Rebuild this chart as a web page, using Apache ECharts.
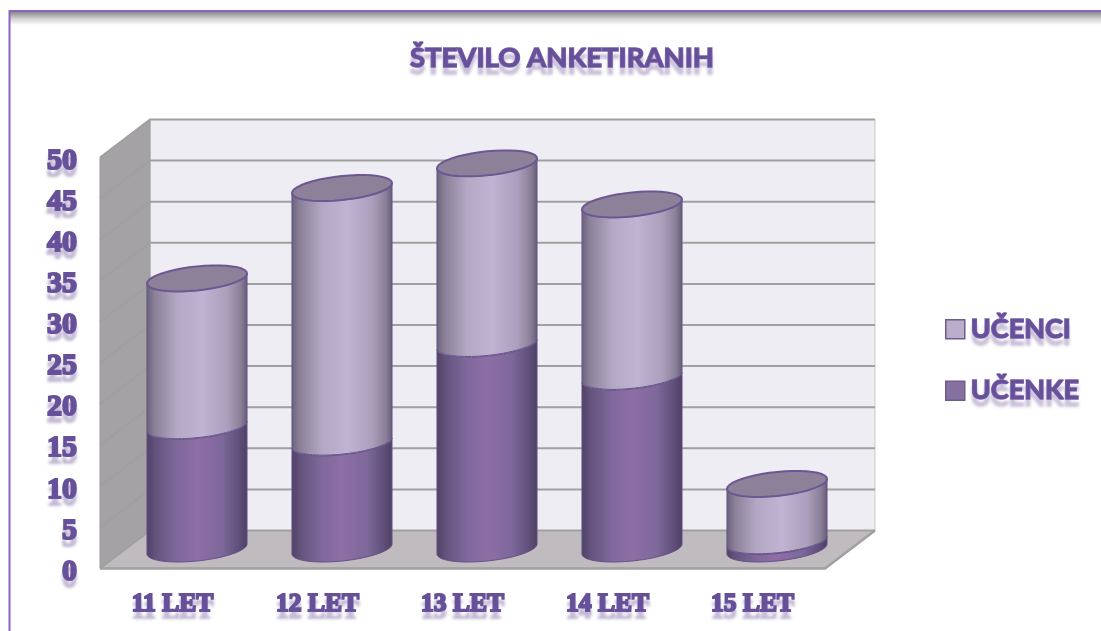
<!DOCTYPE html>
<html>
<head>
<meta charset="utf-8">
<style>html,body{margin:0;padding:0;background:#fff}#c{width:1101px;height:631px}</style>
<script src="https://cdn.jsdelivr.net/npm/echarts@6/dist/echarts.min.js"></script>
</head>
<body>
<div id="c"></div>
<script>
const categories = ['11 LET', '12 LET', '13 LET', '14 LET', '15 LET'];
const ucenke = [15, 13, 25, 21, 1];
const ucenci = [18, 31, 22, 21, 7];
const yTicks = [0, 5, 10, 15, 20, 25, 30, 35, 40, 45, 50];

const DX = 50, DY = -38;
const PURPLE = '#67509a';

function hGrad(stops) {
  return { type: 'linear', x: 0, y: 0, x2: 1, y2: 0,
    colorStops: stops.map(s => ({ offset: s[0], color: s[1] })) };
}
const lightFill = hGrad([[0,'#6a6278'],[0.08,'#8a8098'],[0.3,'#b3a8c4'],[0.55,'#c0b3d3'],[0.8,'#ab9fbc'],[0.93,'#8b8099'],[1,'#645c72']]);
const darkFill = hGrad([[0,'#4f4164'],[0.1,'#66547f'],[0.3,'#7f699b'],[0.5,'#8e6ea6'],[0.75,'#7d689a'],[0.92,'#5f4e78'],[1,'#4d3f60']]);

function rim(cx, cy, a, from, to) {
  const pts = [];
  const n = 40;
  for (let i = 0; i <= n; i++) {
    const t = from + (to - from) * i / n;
    pts.push([cx + a * Math.cos(t), cy - 0.1 * a * Math.cos(t) + 0.24 * a * Math.sin(t)]);
  }
  return pts;
}

function cylinderItem(fill, withTop) {
  return function (params, api) {
    const idx = api.value(0);
    const lo = api.coord([idx, api.value(1)]);
    const hi = api.coord([idx, api.value(2)]);
    const a = api.size([1, 0])[0] * 0.345;
    const cx = lo[0] + DX / 2 - 0.5;
    const yLo = lo[1] + DY / 2 - 0.5, yHi = hi[1] + DY / 2 + 0.2;
    const body = rim(cx, yLo, a, 0, Math.PI).concat(rim(cx, yHi, a, Math.PI, 0));
    const children = [{
      type: 'polygon', shape: { points: body },
      style: { fill: fill, stroke: '#65518a', lineWidth: 1 }
    }];
    if (withTop) {
      children.push({
        type: 'polygon', shape: { points: rim(cx, yHi, a, 0, Math.PI * 2) },
        style: { fill: '#8d8099', stroke: '#6d5793', lineWidth: 2 }
      });
    }
    return { type: 'group', children: children };
  };
}

function wallsItem(params, api) {
  const v0 = yTicks[0], v1 = yTicks[yTicks.length - 1];
  const fb = api.coord([0, v0]), ft = api.coord([0, v1]);
  const band = api.size([1, 0])[0];
  const xL = fb[0] - band / 2, xR = xL + band * categories.length;
  const yB = fb[1], yT = ft[1];
  return { type: 'group', children: [
    { type: 'polygon', shape: { points: [[xL + DX, yT + DY], [xR + DX, yT + DY], [xR + DX, yB + DY], [xL + DX, yB + DY]] },
      style: { fill: '#eeedf3', stroke: '#c9c9cd', lineWidth: 1 } },
    { type: 'polygon', shape: { points: [[xL, yT], [xL + DX, yT + DY], [xL + DX, yB + DY], [xL, yB]] },
      style: { fill: '#a5a2a6', stroke: '#9a9a9a', lineWidth: 1 } },
    { type: 'polygon', shape: { points: [[xL, yB], [xL + DX, yB + DY], [xR + DX, yB + DY], [xR, yB]] },
      style: { fill: '#bfbbbe', stroke: '#a3a3a3', lineWidth: 1 } }
  ] };
}

function gridItem(params, api) {
  const v = api.value(0);
  const c = api.coord([0, v]);
  const band = api.size([1, 0])[0];
  const xL = c[0] - band / 2, xR = xL + band * categories.length, y = c[1];
  const children = [{
    type: 'polyline',
    shape: { points: [[xL, y], [xL + DX, y + DY], [xR + DX, y + DY]] },
    style: { fill: 'none', stroke: '#a0a0a0', lineWidth: 2 }
  }];
  if (v === yTicks[0]) {
    children.push({
      type: 'polyline',
      shape: { points: [[xL, y], [xR, y], [xR + DX, y + DY]] },
      style: { fill: 'none', stroke: '#a0a0a0', lineWidth: 2.5 }
    });
  }
  return { type: 'group', children: children };
}

const tickFont = {
  fontFamily: 'Liberation Serif', fontWeight: 'bold', color: PURPLE,
  textBorderColor: PURPLE, textBorderWidth: 2,
  textShadowColor: 'rgba(120,100,160,0.35)', textShadowBlur: 3, textShadowOffsetX: 0, textShadowOffsetY: 7
};
const headFont = {
  fontFamily: 'Lato', fontWeight: 'bold', color: PURPLE,
  textBorderColor: '#7a62ab', textBorderWidth: 1.5,
  textShadowColor: 'rgba(120,100,160,0.35)', textShadowBlur: 3, textShadowOffsetX: 0, textShadowOffsetY: 7
};

const option = {
  animation: false,
  backgroundColor: '#ffffff',
  title: {
    text: 'ŠTEVILO ANKETIRANIH', left: 557, top: 39, textAlign: 'center',
    textStyle: Object.assign({}, headFont, { fontSize: 27.5 })
  },
  legend: {
    data: ['UČENCI', 'UČENKE'], orient: 'vertical', left: 945, top: 315, padding: 0,
    itemWidth: 19, itemHeight: 19, itemGap: 33, icon: 'rect',
    itemStyle: { borderColor: '#6f5b8d', borderWidth: 1.5 },
    textStyle: Object.assign({}, headFont, { fontSize: 27, padding: [4, 0, 0, 1] })
  },
  grid: { left: 100, top: 157.5, width: 725, height: 411, containLabel: false },
  xAxis: {
    type: 'category', data: categories,
    axisLine: { show: false }, axisTick: { show: false }, splitLine: { show: false },
    axisLabel: Object.assign({ margin: 23, fontSize: 25.5 }, tickFont)
  },
  yAxis: {
    type: 'value', min: 0, max: 50, interval: 5,
    axisLine: { show: false }, axisTick: { show: false }, splitLine: { show: false },
    axisLabel: Object.assign({ margin: 23, fontSize: 30, verticalAlign: 'top', lineHeight: 7 }, tickFont)
  },
  graphic: [
    { type: 'rect', z: 0, silent: true, shape: { x: 10, y: 12, width: 1091, height: 13 },
      style: { fill: { type: 'linear', x: 0, y: 0, x2: 0, y2: 1,
        colorStops: [{ offset: 0, color: '#8a8a8a' }, { offset: 0.5, color: '#cfcfcf' }, { offset: 1, color: '#ffffff' }] } } },
    { type: 'polyline', z: 1, silent: true, shape: { points: [[9.5, 631], [9.5, 11], [1101, 11]] },
      style: { fill: 'none', stroke: '#8e62c2', lineWidth: 2 } }
  ],
  series: [
    { type: 'custom', name: 'walls', z: 1, silent: true, data: [[0]], renderItem: wallsItem,
      encode: { x: -1, y: -1 } },
    { type: 'custom', name: 'grid', z: 2, silent: true, data: yTicks.map(v => [v]), renderItem: gridItem,
      encode: { x: -1, y: 0 } },
    { type: 'custom', name: 'UČENKE', z: 3, itemStyle: { color: '#85709f' },
      data: categories.map((c, i) => [i, 0, ucenke[i]]),
      renderItem: cylinderItem(darkFill, false), encode: { x: 0, y: [1, 2] } },
    { type: 'custom', name: 'UČENCI', z: 4, itemStyle: { color: '#b9adcb' },
      data: categories.map((c, i) => [i, ucenke[i], ucenke[i] + ucenci[i]]),
      renderItem: cylinderItem(lightFill, true), encode: { x: 0, y: [1, 2] } }
  ]
};
const chart = echarts.init(document.getElementById('c'), null, { renderer: 'canvas' });
chart.setOption(option);
</script>
</body>
</html>
